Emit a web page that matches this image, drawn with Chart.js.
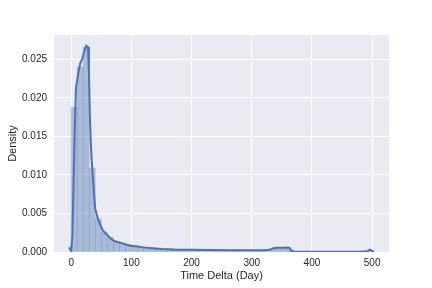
<!DOCTYPE html>
<html>
<head>
<meta charset="utf-8">
<script src="https://cdn.jsdelivr.net/npm/chart.js@4/dist/chart.umd.min.js"></script>
<style>
  html, body { margin: 0; padding: 0; background: #ffffff; }
  #wrap { width: 432px; height: 288px; }
</style>
</head>
<body>
<div id="wrap"><canvas id="chart" width="432" height="288"></canvas></div>
<script>
// Histogram: bin centres (10-day bins) and density per bin
const binCenters = [
  5, 15, 25, 35, 45, 55, 65, 75, 85, 95,
  105, 115, 125, 135, 145, 155, 165, 175, 185, 195,
  205, 215, 225, 235, 245, 255, 265, 275, 285, 295,
  305, 315, 325, 335, 345, 355, 365, 375, 385, 395,
  405, 415, 425, 435, 445, 455, 465, 475, 485, 495
];
const binDensity = [
  0.0188, 0.0240, 0.0266, 0.0109, 0.0043, 0.0026, 0.0019, 0.0014, 0.0011, 0.0010,
  0.0008, 0.0007, 0.0006, 0.0005, 0.0005, 0.0004, 0.0004, 0.00035, 0.0003, 0.0003,
  0.0003, 0.00028, 0.00027, 0.00026, 0.00025, 0.00025, 0.00024, 0.00024, 0.00023, 0.00023,
  0.00023, 0.00022, 0.00025, 0.00045, 0.00055, 0.00055, 0.0003, 0.00002, 0.00002, 0.00002,
  0.00002, 0.00002, 0.00002, 0.00002, 0.00002, 0.00002, 0.00002, 0.00002, 0.00003, 0.0002
];

// KDE curve
const kdeDays = [
  -3.4, -1.5, 0, 2, 4, 6, 8, 11, 15, 18,
  22, 25, 28, 29.5, 31, 32.5, 34, 36, 38, 40,
  44, 48, 52, 56, 60, 65, 70, 76, 82, 90,
  98, 110, 120, 135, 150, 175, 200, 230, 260, 300,
  320, 330, 335, 340, 350, 360, 363, 366, 370, 400,
  450, 480, 492, 496, 499, 503
];
const kdeDensity = [
  0.0006, 0.0003, 0.0001, 0.002, 0.009, 0.016, 0.0213, 0.0228, 0.0245, 0.0250,
  0.0261, 0.0268, 0.0266, 0.0235, 0.018, 0.0145, 0.012, 0.0098, 0.0075, 0.0056,
  0.0044, 0.0036, 0.0029, 0.0025, 0.0022, 0.0018, 0.0015, 0.0013, 0.0012, 0.0010,
  0.0008, 0.0007, 0.0006, 0.0005, 0.0004, 0.0003, 0.00028, 0.00025, 0.00024, 0.00022,
  0.00022, 0.00028, 0.00045, 0.00055, 0.00055, 0.00057, 0.0005, 0.0001, 0.00003, 0.00002,
  0.00002, 0.00003, 0.0001, 0.0003, 0.0002, 0.00003
];

const xTicks = [0, 100, 200, 300, 400, 500];
const yTicks = [0, 0.005, 0.010, 0.015, 0.020, 0.025];

const textColor = '#262626';
const fontFamily = '"Liberation Sans", Arial, sans-serif';

// fill the plot area with the seaborn darkgrid colour
const plotBackground = {
  id: 'plotBackground',
  beforeDraw(chart) {
    const { ctx, chartArea } = chart;
    ctx.save();
    ctx.fillStyle = '#EAEAF2';
    ctx.fillRect(chartArea.left, chartArea.top, chartArea.right - chartArea.left, chartArea.bottom - chartArea.top);
    ctx.restore();
  }
};

const ctx = document.getElementById('chart').getContext('2d');
new Chart(ctx, {
  data: {
    datasets: [
      {
        type: 'line',
        data: kdeDays.map((d, i) => ({ x: d, y: kdeDensity[i] })),
        borderColor: '#4C72B0',
        borderWidth: 2,
        pointRadius: 0,
        tension: 0,
        fill: false,
        order: 0
      },
      {
        type: 'bar',
        data: binCenters.map((c, i) => ({ x: c, y: binDensity[i] })),
        backgroundColor: 'rgba(76, 114, 176, 0.4)',
        borderWidth: 0,
        barPercentage: 1,
        categoryPercentage: 1,
        order: 1
      }
    ]
  },
  options: {
    responsive: false,
    animation: false,
    layout: { padding: { left: 0, right: 43, top: 35, bottom: 0 } },
    plugins: { legend: { display: false }, tooltip: { enabled: false } },
    scales: {
      x: {
        type: 'linear',
        offset: false,
        min: -28.5,
        max: 528,
        afterBuildTicks: axis => { axis.ticks = xTicks.map(v => ({ value: v })); },
        afterFit: axis => { axis.height = 36; },
        grid: { color: '#ffffff', lineWidth: 1, drawTicks: false, offset: false },
        border: { display: false },
        ticks: { color: textColor, padding: 5, font: { family: fontFamily, size: 10 } },
        title: {
          display: true,
          text: 'Time Delta (Day)',
          color: textColor,
          font: { family: fontFamily, size: 11 },
          padding: { top: 0, bottom: 5 }
        }
      },
      y: {
        type: 'linear',
        min: 0,
        max: 0.02818,
        afterBuildTicks: axis => { axis.ticks = yTicks.map(v => ({ value: v })); },
        afterFit: axis => { axis.width = 54; },
        grid: { color: '#ffffff', lineWidth: 1, drawTicks: false },
        border: { display: false },
        ticks: {
          color: textColor,
          padding: 7,
          font: { family: fontFamily, size: 10 },
          callback: v => v.toFixed(3)
        },
        title: {
          display: true,
          text: 'Density',
          color: textColor,
          font: { family: fontFamily, size: 11 },
          padding: { top: 6, bottom: 0 }
        }
      }
    }
  },
  plugins: [plotBackground]
});
</script>
</body>
</html>
